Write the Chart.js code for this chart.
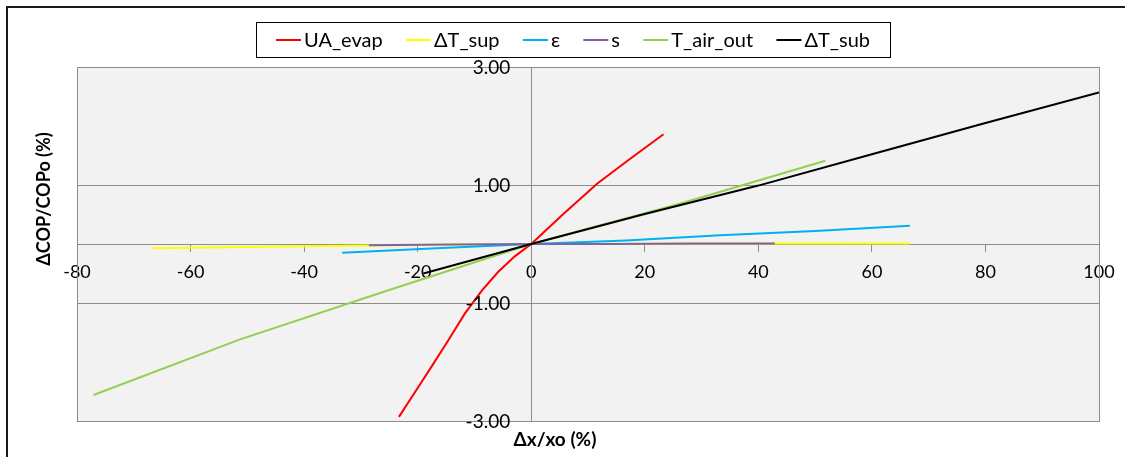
<!DOCTYPE html>
<html>
<head>
<meta charset="utf-8">
<script src="https://cdn.jsdelivr.net/npm/chart.js@4.4.1/dist/chart.umd.min.js"></script>
<style>
  html, body { margin: 0; padding: 0; background: #ffffff; }
  #wrap { width: 1125px; height: 457px; position: relative; }
</style>
</head>
<body>
<div id="wrap"><canvas id="c" width="1125" height="457"></canvas></div>
<script>
// Relative change of COP versus relative change of each parameter (both in %)
const seriesNames = ['UA_evap', 'ΔT_sup', 'ε', 's', 'T_air_out', 'ΔT_sub'];
const seriesColors = ['#ff0000', '#ffff00', '#00b0f0', '#8064a2', '#92d050', '#000000'];

const uaEvapX = [-23.3, -20.4, -17.5, -14.6, -11.7, -8.7, -5.8, -2.9, 0, 5.8, 11.7, 17.5, 23.3];
const uaEvapY = [-2.93, -2.50, -2.07, -1.63, -1.18, -0.79, -0.47, -0.21, 0, 0.52, 1.03, 1.45, 1.86];

const dtSupX = [-66.7, -33.3, 0, 33.3, 66.7];
const dtSupY = [-0.07, -0.03, 0, 0.01, 0.01];

const epsX = [-33.3, -16.7, 0, 16.7, 33.3, 50, 66.7];
const epsY = [-0.15, -0.07, 0, 0.06, 0.15, 0.22, 0.31];

const sX = [-28.6, -14.3, 0, 14.3, 28.6, 42.9];
const sY = [-0.02, -0.01, 0, 0, 0.01, 0.01];

const tAirOutX = [-77.1, -51.4, -25.7, 0, 25.7, 51.8];
const tAirOutY = [-2.56, -1.62, -0.80, 0, 0.67, 1.41];

const dtSubX = [-19, 0, 20, 40, 60, 80, 100];
const dtSubY = [-0.50, 0, 0.51, 0.99, 1.52, 2.05, 2.57];

const xTicks = [-80, -60, -40, -20, 0, 20, 40, 60, 80, 100];
const yTicks = [-3, -1, 1, 3];

const xTitle = 'Δx/xo (%)';
const yTitle = 'ΔCOP/COPo (%)';

const seriesX = [uaEvapX, dtSupX, epsX, sX, tAirOutX, dtSubX];
const seriesY = [uaEvapY, dtSupY, epsY, sY, tAirOutY, dtSubY];

const FONT = 'Lato, "Open Sans", sans-serif';
const AXIS_GRAY = '#8c8c8c';

const datasets = seriesNames.map((name, i) => ({
  label: name,
  data: seriesX[i].map((x, k) => ({ x: x, y: seriesY[i][k] })),
  borderColor: seriesColors[i],
  backgroundColor: seriesColors[i],
  borderWidth: 2,
  pointRadius: 0,
  pointHoverRadius: 0,
  showLine: true,
  tension: 0,
  fill: false,
  // later series are painted over earlier ones
  order: seriesNames.length - i
}));

// Plot background, frames, value labels of the vertical axis, legend and axis titles
const decorations = {
  id: 'decorations',
  beforeDraw(chart) {
    const { ctx, chartArea: a } = chart;
    ctx.save();
    ctx.fillStyle = '#f2f2f2';
    ctx.fillRect(a.left, a.top, a.right - a.left, a.bottom - a.top);
    ctx.restore();
  },
  afterDraw(chart) {
    const { ctx, chartArea: a } = chart;
    const xs = chart.scales.x, ys = chart.scales.y;
    ctx.save();
    // plot frame
    ctx.strokeStyle = AXIS_GRAY;
    ctx.lineWidth = 1;
    ctx.strokeRect(Math.round(a.left) + 0.5, Math.round(a.top) + 0.5,
                   Math.round(a.right - a.left), Math.round(a.bottom - a.top));
    // outer chart frame (left and top edges)
    ctx.fillStyle = '#1a1a1a';
    ctx.fillRect(6, 6, 2, 460);
    ctx.fillRect(6, 6, 1130, 2);

    // vertical axis value labels, set to the left of the axis line at x = 0
    ctx.fillStyle = '#000000';
    ctx.font = '19px ' + FONT;
    ctx.textAlign = 'right';
    ctx.textBaseline = 'middle';
    const axisX = xs.getPixelForValue(0);
    ys.ticks.forEach(t => {
      ctx.fillText(Number(t.value).toFixed(2), axisX - 21, ys.getPixelForValue(t.value) + 1);
    });

    // legend
    ctx.font = '20px ' + FONT;
    ctx.textBaseline = 'middle';
    const lineLen = 25, lineGap = 3, padX = 20;
    const boxLeft = 256, boxW = 634, top = 22, h = 35;
    const widths = seriesNames.map(n => ctx.measureText(n).width);
    let used = padX * 2;
    widths.forEach(w => { used += lineLen + lineGap + w; });
    const itemGap = (boxW - used) / (seriesNames.length - 1);
    ctx.fillStyle = '#ffffff';
    ctx.fillRect(boxLeft, top, boxW, h);
    ctx.strokeStyle = '#000000';
    ctx.lineWidth = 1;
    ctx.strokeRect(boxLeft + 0.5, top + 0.5, boxW, h);
    let x = boxLeft + padX;
    const ly = top + h / 2 + 0.5;
    seriesNames.forEach((n, i) => {
      ctx.strokeStyle = seriesColors[i];
      ctx.lineWidth = 2;
      ctx.beginPath();
      ctx.moveTo(x, ly);
      ctx.lineTo(x + lineLen, ly);
      ctx.stroke();
      x += lineLen + lineGap;
      ctx.fillStyle = '#000000';
      ctx.textAlign = 'left';
      ctx.fillText(n, x, ly + 1);
      x += widths[i] + itemGap;
    });

    // axis titles
    ctx.fillStyle = '#000000';
    ctx.textAlign = 'center';
    ctx.textBaseline = 'middle';
    ctx.font = 'bold 19px ' + FONT;
    ctx.fillText(xTitle, 555, 440);
    ctx.font = 'bold 18px ' + FONT;
    ctx.translate(44, 199);
    ctx.rotate(-Math.PI / 2);
    ctx.fillText(yTitle, 0, 0);
    ctx.restore();
  }
};

new Chart(document.getElementById('c'), {
  type: 'scatter',
  data: { datasets: datasets },
  plugins: [decorations],
  options: {
    responsive: false,
    animation: false,
    devicePixelRatio: 1,
    layout: { padding: { left: 77, right: 26, top: 67, bottom: 36 } },
    plugins: {
      legend: { display: false },
      tooltip: { enabled: false },
      title: { display: false }
    },
    scales: {
      x: {
        type: 'linear',
        min: -80,
        max: 100,
        position: { y: 0 },
        afterBuildTicks: (scale) => { scale.ticks = xTicks.map(v => ({ value: v })); },
        grid: { drawOnChartArea: false, drawTicks: true, tickLength: 7, color: AXIS_GRAY },
        border: { display: true, color: AXIS_GRAY, width: 1 },
        ticks: {
          color: '#000000',
          font: { family: FONT, size: 18 },
          padding: 10,
          maxRotation: 0,
          autoSkip: false,
          callback: (v) => String(v)
        }
      },
      y: {
        type: 'linear',
        min: -3,
        max: 3,
        position: { x: 0 },
        afterBuildTicks: (scale) => { scale.ticks = yTicks.map(v => ({ value: v })); },
        grid: { drawTicks: false, color: AXIS_GRAY },
        border: { display: true, color: AXIS_GRAY, width: 1 },
        ticks: { display: false }
      }
    }
  }
});
</script>
</body>
</html>
